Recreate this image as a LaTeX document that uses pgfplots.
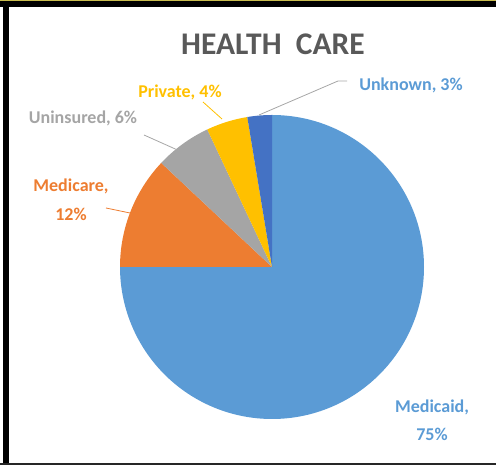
\documentclass[border=0pt]{standalone}
\usepackage{pgfplots}
\usepackage{pgfplotstable}
\pgfplotsset{compat=1.18}
\usepackage{fontspec}
\setmainfont{Carlito}
\definecolor{medicaid}{HTML}{5B9BD5}
\definecolor{medicare}{HTML}{ED7D31}
\definecolor{uninsured}{HTML}{A5A5A5}
\definecolor{private}{HTML}{FFC000}
\definecolor{unknown}{HTML}{4472C4}
\definecolor{titlegray}{HTML}{595959}
\definecolor{leadgray}{HTML}{A6A6A6}
\definecolor{topline}{HTML}{C9BC4E}

\pgfplotstableread[col sep=comma]{
label,value,color
Medicaid,75,medicaid
Medicare,12,medicare
Uninsured,6,uninsured
Private,4.4,private
Unknown,2.6,unknown
}\piedata

\begin{document}
\begin{tikzpicture}
\begin{axis}[
  width=496pt, height=465pt, scale only axis,
  xmin=0, xmax=496, ymin=0, ymax=465,
  hide axis, clip=false,
]
\path (axis cs:0,0) rectangle (axis cs:496,465);
\pgfplotsextra{
  \gdef\curangle{90}
  \foreach \i in {0,...,4}{
    \pgfplotstablegetelem{\i}{value}\of\piedata \let\v\pgfplotsretval
    \pgfplotstablegetelem{\i}{color}\of\piedata \let\c\pgfplotsretval
    \pgfmathsetmacro\endangle{\curangle-3.6*\v}
    \fill[fill=\c] (axis cs:272,198) -- ([shift={(\curangle:152pt)}]axis cs:272,198)
       arc[start angle=\curangle, end angle=\endangle, radius=152pt] -- cycle;
    \xdef\curangle{\endangle}
  }
  % borders
  \fill[black] (axis cs:3,0) rectangle (axis cs:9,465);
  \fill[black] (axis cs:0,458) rectangle (axis cs:496,463.5);
  \fill[topline] (axis cs:0,463.5) rectangle (axis cs:496,465);
  \fill[black!85] (axis cs:0,0) rectangle (axis cs:496,2);
  % leader lines
  \draw[leadgray, line width=0.8pt] (axis cs:259,350) -- (axis cs:338,384) -- (axis cs:347,384);
  \draw[private, line width=0.8pt] (axis cs:203,363) -- (axis cs:222,346);
  \draw[leadgray, line width=0.8pt] (axis cs:144,330) -- (axis cs:182,313);
  \draw[medicare, line width=0.8pt] (axis cs:106,257) -- (axis cs:130,252);
  % labels
  \node[font=\fontsize{31.5}{34}\selectfont\bfseries, text=titlegray] at (axis cs:273,421) {HEALTH\ \ CARE};
  \node[font=\fontsize{18}{21}\selectfont\bfseries, text=medicaid] at (axis cs:411,380) {Unknown, 3\%};
  \node[font=\fontsize{18}{21}\selectfont\bfseries, text=private] at (axis cs:180,373) {Private, 4\%};
  \node[font=\fontsize{18}{21}\selectfont\bfseries, text=uninsured] at (axis cs:83,347) {Uninsured, 6\%};
  \node[font=\fontsize{18}{21}\selectfont\bfseries, text=medicare] at (axis cs:71,279) {Medicare,};
  \node[font=\fontsize{18}{21}\selectfont\bfseries, text=medicare] at (axis cs:71,251) {12\%};
  \node[font=\fontsize{18}{21}\selectfont\bfseries, text=medicaid] at (axis cs:432,58) {Medicaid,};
  \node[font=\fontsize{18}{21}\selectfont\bfseries, text=medicaid] at (axis cs:432,31) {75\%};
}
\end{axis}
\end{tikzpicture}
\end{document}
